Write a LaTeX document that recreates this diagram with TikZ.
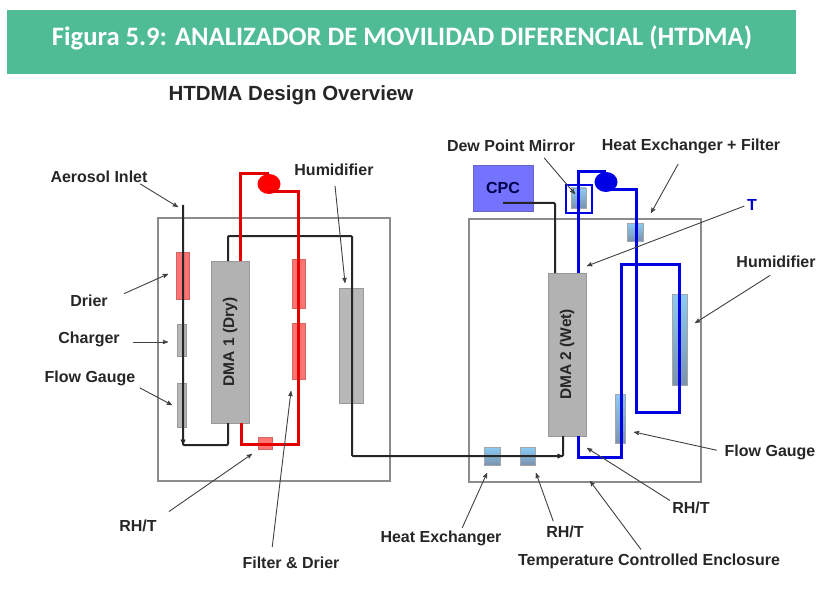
\documentclass[tikz,border=0pt]{standalone}
\usepackage{fontspec}
\setmainfont{Liberation Sans}
\newfontfamily\titlefont{Carlito}
\usetikzlibrary{arrows,shapes.geometric}
\definecolor{titlegreen}{HTML}{4FBC96}
\definecolor{bluetop}{HTML}{8CCBF5}
\definecolor{bluebot}{HTML}{7A93AD}

\begin{document}
\begin{tikzpicture}[>=stealth',x=1pt,y=-1pt,line width=1pt]
\useasboundingbox (0,0) rectangle (816,596);

   \tikzstyle{every node}=[inner sep=0pt,outer sep=0pt]
   \tikzstyle{tag}=[font=\fontsize{16}{18}\selectfont\bfseries,text=black!85]
   \tikzstyle{enclosure}=[draw=black!45,line width=2pt,fill=white]
   \tikzstyle{dma}=[draw=black!40,fill=black!30,line width=1pt,font=\fontsize{15.5}{18}\selectfont\bfseries,text=black!85]
   \tikzstyle{redpart}=[draw=red!70!black!60,fill=red!55!white,line width=.6pt]
   \tikzstyle{graypart}=[draw=black!40,fill=black!28,line width=.6pt]
   \tikzstyle{bluepart}=[draw=black!35,top color=bluetop,bottom color=bluebot,line width=.6pt]
   \tikzstyle{blacktube}=[draw=black!85,line width=2pt,rounded corners=1pt]
   \tikzstyle{redtube}=[draw=red!90!black,line width=3pt]
   \tikzstyle{bluetube}=[draw=blue!90!black,line width=3pt]
   \tikzstyle{every edge}=[draw=black!75,->,line width=.9pt]

  \node[fill=titlegreen,minimum width=789pt,minimum height=64pt,anchor=north west] (band) at (7,10) {};
  \node[font=\titlefont\fontsize{26.6}{30}\selectfont\bfseries,text=white] (title) at (402,38) {Figura 5.9: ANALIZADOR DE MOVILIDAD DIFERENCIAL (HTDMA)};
  \node[font=\fontsize{20.5}{22}\selectfont\bfseries,text=black!85] (overview) at (291,95) {HTDMA Design Overview};

  % enclosures
  \node[enclosure,minimum width=232pt,minimum height=263pt,anchor=north west] (boxa) at (158,218) {};
  \node[enclosure,minimum width=232pt,minimum height=263pt,anchor=north west] (boxb) at (469,219) {};

  % instrument 1
  \node[dma,minimum width=38pt,minimum height=162pt,anchor=north west] (dmaone) at (211,261) {\rotatebox{90}{DMA 1 (Dry)}};
  \node[redpart,minimum width=13pt,minimum height=47pt,anchor=north west] (drier) at (176,252) {};
  \node[graypart,minimum width=9pt,minimum height=32pt,anchor=north west] (charger) at (177,324) {};
  \node[graypart,minimum width=9pt,minimum height=44pt,anchor=north west] (gaugea) at (177,383) {};
  \node[redpart,minimum width=13pt,minimum height=49pt,anchor=north west] (filtera) at (292,259) {};
  \node[redpart,minimum width=13pt,minimum height=56pt,anchor=north west] (filterb) at (292,323) {};
  \node[redpart,minimum width=14pt,minimum height=12pt,anchor=north west] (rhta) at (258,437) {};
  \node[graypart,minimum width=24pt,minimum height=115pt,anchor=north west] (humida) at (339,288) {};
  \node[ellipse,fill=red,minimum width=23pt,minimum height=20pt] (pumpa) at (269,184) {};

  % instrument 2
  \node[dma,minimum width=38pt,minimum height=163pt,anchor=north west] (dmatwo) at (548,273) {\rotatebox{90}{DMA 2 (Wet)}};
  \node[draw=blue!60!black!60,fill=blue!55!white,minimum width=60pt,minimum height=46pt,anchor=north west,font=\fontsize{16}{18}\selectfont\bfseries,text=blue!30!black,line width=.6pt] (cpc) at (473,165) {CPC};
  \node[draw=blue!90!black,line width=2pt,minimum width=26pt,minimum height=28pt,anchor=north west] (mirror) at (566,185) {};
  \node[bluepart,minimum width=15pt,minimum height=20pt,anchor=north west] (dew) at (571,188) {};
  \node[bluepart,minimum width=16pt,minimum height=18pt,anchor=north west] (hxf) at (627,223) {};
  \node[bluepart,minimum width=15pt,minimum height=91pt,anchor=north west] (humidb) at (672,294) {};
  \node[bluepart,minimum width=10pt,minimum height=49pt,anchor=north west] (gaugeb) at (615,394) {};
  \node[bluepart,minimum width=16pt,minimum height=18pt,anchor=north west] (hxa) at (484,447) {};
  \node[bluepart,minimum width=15pt,minimum height=18pt,anchor=north west] (rhtb) at (520,447) {};
  \node[ellipse,fill=blue!90!black,minimum width=23pt,minimum height=20pt] (pumpb) at (606,182) {};

  % tubing
  \coordinate (inlet) at (183,205);
  \draw[blacktube] (inlet) -- (183,445) -- (228,445) -- ([xshift=-2pt]dmaone.south);
  \draw[blacktube] ([xshift=-2pt]dmaone.north) -- (228,236) -- (352,236) -- (352,456) -- (563,456) -- ([xshift=-4pt]dmatwo.south);
  \draw[redtube] ([xshift=10pt]dmaone.north) -- (240,174) -- (pumpa.north);
  \draw[redtube] ([yshift=2pt]pumpa.south) -- (298,192) -- (298,444) -- (241,444) -- ([xshift=11pt]dmaone.south);
  \draw[blacktube] ([yshift=8pt]cpc.south) -- (555,203) -- ([xshift=-12pt]dmatwo.north);
  \draw[bluetube] ([xshift=11pt]dmatwo.north) -- (578,172) -- (pumpb.north);
  \draw[bluetube] ([yshift=2pt]pumpb.south) -- (636,190) -- (636,412) -- (679,412) -- (679,264) -- (621,264) -- (621,457) -- (578,457) -- ([xshift=11pt]dmatwo.south);
  \draw[->,draw=black!85,line width=1pt] (183,430) -- (183,445);
  \draw[->,draw=black!85,line width=1pt] (545,456) -- (563,456);

  % labels
  \node[tag] (aerosol) at (99,177) {Aerosol Inlet};
  \node[tag] (humidlaba) at (334,170) {Humidifier};
  \node[tag] (drierlab) at (89,301) {Drier};
  \node[tag] (chargerlab) at (89,339) {Charger};
  \node[tag] (gaugelaba) at (90,378) {Flow Gauge};
  \node[tag] (rhtlaba) at (138,526) {RH/T};
  \node[tag] (filterlab) at (291,563) {Filter \& Drier};
  \node[tag] (hxlab) at (441,538) {Heat Exchanger};
  \node[tag] (rhtlabb) at (565,532) {RH/T};
  \node[tag] (tempe) at (649,561) {Temperature Controlled Enclosure};
  \node[tag] (rhtlabc) at (691,508) {RH/T};
  \node[tag] (gaugelabb) at (770,452) {Flow Gauge};
  \node[tag] (humidlabb) at (776,262) {Humidifier};
  \node[tag,text=blue!80!black] (tlab) at (752,205) {T};
  \node[tag] (dewlab) at (511,146) {Dew Point Mirror};
  \node[tag] (hxflab) at (691,146) {Heat Exchanger + Filter};

  % pointer ends
  \coordinate (toinlet) at (178,207);
  \coordinate (tohumida) at (345,283);
  \coordinate (todrier) at (168,274);
  \coordinate (tocharger) at (168,342);
  \coordinate (togaugea) at (172,405);
  \coordinate (torhta) at (252,454);
  \coordinate (tofilter) at (291,391);
  \coordinate (tohx) at (487,473);
  \coordinate (torhtb) at (536,473);
  \coordinate (tobox) at (590,481);
  \coordinate (torhtc) at (587,448);
  \coordinate (togaugeb) at (634,432);
  \coordinate (tohumidb) at (695,323);
  \coordinate (tot) at (587,266);
  \coordinate (todew) at (575,194);
  \coordinate (tohxf) at (651,213);

 \path ([xshift=-9pt]aerosol.south east) edge[shorten <=2pt] (toinlet)
            (humidlaba.south) edge[shorten <=10pt] (tohumida)
            (drierlab.east) edge[shorten <=18pt] (todrier)
            ([yshift=-3pt]chargerlab.east) edge[shorten <=13pt] (tocharger)
            (gaugelaba.south east) edge[shorten <=5pt] (togaugea)
            (rhtlaba.north east) edge[shorten <=15pt] (torhta)
            ([xshift=-20pt]filterlab.north) edge[shorten <=10pt] (tofilter)
            ([xshift=20pt]hxlab.north) edge[shorten <=3pt] (tohx)
            ([xshift=-10pt]rhtlabb.north) edge[shorten <=5pt] (torhtb)
            ([xshift=-5pt]tempe.north) edge[shorten <=5pt] (tobox)
            (rhtlabc.north west) edge[shorten <=3pt] (torhtc)
            (gaugelabb.west) edge[shorten <=8pt] (togaugeb)
            ([xshift=6pt]humidlabb.south) edge[shorten <=14pt] (tohumidb)
            (tlab.west) edge[shorten <=3pt] (tot)
            ([xshift=28pt]dewlab.south) edge[shorten <=8pt] (todew)
            ([xshift=-7pt]hxflab.south) edge[shorten <=12pt] (tohxf);

\end{tikzpicture}
\end{document}
